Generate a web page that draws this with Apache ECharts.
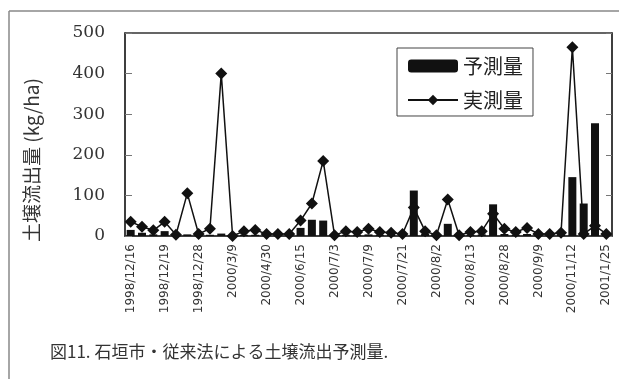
<!DOCTYPE html>
<html>
<head>
<meta charset="utf-8">
<script src="https://cdn.jsdelivr.net/npm/echarts@6/dist/echarts.min.js"></script>
<style>
html,body{margin:0;padding:0;background:#fff;}
#chart{width:619px;height:379px;}
</style>
</head>
<body>
<div id="chart"></div>
<script>
// Categories (43 sampling events); only every third carries a printed date label
const categories = [
  '1998/12/16','','','1998/12/19','','','1998/12/28','','','2000/3/9','','',
  '2000/4/30','','','2000/6/15','','','2000/7/3','','','2000/7/9','','',
  '2000/7/21','','','2000/8/2','','','2000/8/13','','','2000/8/28','','',
  '2000/9/9','','','2000/11/12','','','2001/1/25'
];
// 予測量 (predicted, bars)
const predicted = [
  15,8,4,12,2,4,3,3,6,2,3,3,2,2,2,20,40,38,2,3,3,4,3,3,3,112,5,2,30,2,3,4,78,5,3,5,2,2,3,145,80,278,3
];
// 実測量 (measured, line with diamonds)
const measured = [
  35,23,14,35,3,105,5,18,400,0,12,15,5,5,5,38,80,185,2,12,10,18,10,8,5,70,12,2,90,2,10,12,55,18,10,20,5,5,8,465,5,25,5
];
const yTicks = {min: 0, max: 500, interval: 100};
const seriesNames = ['予測量', '実測量'];
const yAxisTitle = '土壌流出量 (kg/ha)';
const caption = '図11. 石垣市・従来法による土壌流出予測量.';

const chart = echarts.init(document.getElementById('chart'), null, {renderer: 'canvas'});
const dark = '#111';
chart.setOption({
  animation: false,
  backgroundColor: '#fff',
  grid: {left: 125, right: 7, top: 33, bottom: 143, show: true, borderColor: '#333', borderWidth: 1.5},
  legend: {
    data: seriesNames,
    orient: 'vertical',
    left: 397, top: 48,
    itemWidth: 50, itemHeight: 13, itemGap: 14,
    padding: [8, 10, 6, 10],
    borderColor: '#444', borderWidth: 1,
    backgroundColor: '#fff',
    textStyle: {fontSize: 20, color: '#222', fontFamily: 'Noto Sans CJK JP'}
  },
  xAxis: {
    type: 'category',
    data: categories,
    boundaryGap: true,
    axisLine: {lineStyle: {color: '#333', width: 1.5}},
    axisTick: {show: false},
    axisLabel: {interval: 0, rotate: 90, fontSize: 12, color: '#333', margin: 8, fontFamily: 'DejaVu Sans'}
  },
  yAxis: [{
    type: 'value',
    min: yTicks.min, max: yTicks.max, interval: yTicks.interval,
    axisLine: {show: true, lineStyle: {color: '#333', width: 1.5}},
    axisTick: {show: true, inside: true, length: 7, lineStyle: {color: '#777'}},
    splitLine: {show: false},
    axisLabel: {fontSize: 17, color: '#333', margin: 20, fontFamily: 'DejaVu Serif'}
  }, {
    type: 'value', position: 'right',
    min: yTicks.min, max: yTicks.max, interval: yTicks.interval,
    axisLine: {show: true, lineStyle: {color: '#333', width: 1.5}},
    axisTick: {show: true, inside: true, length: 6, lineStyle: {color: '#777'}},
    splitLine: {show: false},
    axisLabel: {show: false}
  }],
  series: [{
    name: seriesNames[0],
    type: 'bar',
    data: predicted,
    barWidth: 8,
    itemStyle: {color: dark},
    z: 2
  }, {
    name: seriesNames[1],
    type: 'line',
    data: measured,
    symbol: 'diamond',
    symbolSize: 12,
    lineStyle: {color: dark, width: 1.5},
    itemStyle: {color: dark},
    z: 3
  }],
  graphic: [
    {type: 'line', shape: {x1: 9, y1: 11, x2: 619, y2: 11}, style: {stroke: '#888', lineWidth: 1.5}},
    {type: 'line', shape: {x1: 9, y1: 11, x2: 9, y2: 379}, style: {stroke: '#888', lineWidth: 1.5}},
    {type: 'text', x: 32, y: 160, rotation: Math.PI / 2,
     style: {text: yAxisTitle, fontSize: 19, fill: '#333', fontFamily: 'Noto Sans CJK JP', align: 'center', verticalAlign: 'middle'}},
    {type: 'text', x: 50, y: 352,
     style: {text: caption, fontSize: 17, fill: '#333', fontFamily: 'Noto Sans CJK JP', align: 'left', verticalAlign: 'middle'}}
  ]
});
</script>
</body>
</html>
